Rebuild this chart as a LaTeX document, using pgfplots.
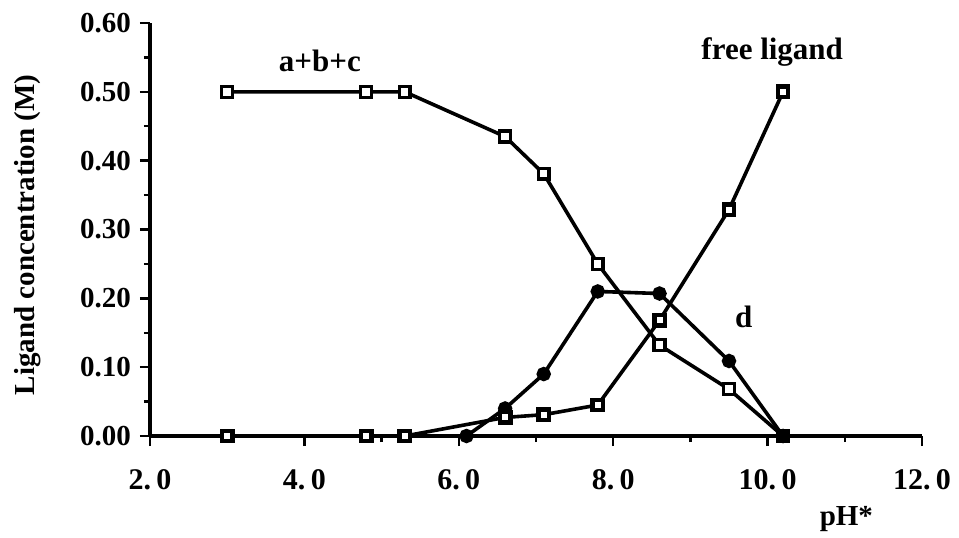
\documentclass[border=0pt]{standalone}
\usepackage{fontspec}
\setmainfont{Liberation Serif}
\usepackage{pgfplots}
\pgfplotsset{compat=1.18}
\begin{document}
\begin{tikzpicture}
\useasboundingbox (-75pt,-50.5pt) rectangle (404.5pt,218pt);
\begin{axis}[
  scale only axis,
  width=386pt, height=206.5pt,
  xmin=2, xmax=12, ymin=0, ymax=0.6,
  axis x line=bottom, axis y line=left,
  axis line style={line width=1.7pt, -},
  xtick={2,4,6,8,10,12},
  xticklabels={2.\hspace{0.18em}0,4.\hspace{0.18em}0,6.\hspace{0.18em}0,8.\hspace{0.18em}0,10.\hspace{0.18em}0,12.\hspace{0.18em}0},
  minor xtick={3,5,7,9,11},
  ytick={0,0.1,0.2,0.3,0.4,0.5,0.6},
  yticklabels={0.00,0.10,0.20,0.30,0.40,0.50,0.60},
  minor ytick={0.05,0.15,0.25,0.35,0.45,0.55},
  tick align=outside,
  major tick length=5pt, minor tick length=3pt,
  tick style={line width=1.2pt, black},
  yticklabel style={font=\fontsize{14.5}{17}\selectfont\bfseries, xshift=-1pt},
  xticklabel style={font=\fontsize{15}{18}\selectfont\bfseries, yshift=-8pt},
  xlabel={pH*}, ylabel={Ligand concentration (M)},
  label style={font=\fontsize{14.5}{17}\selectfont\bfseries},
  xlabel style={at={(axis description cs:0.902,-0.2)}, anchor=center},
  ylabel style={at={(axis description cs:-0.158,0.487)}, anchor=center},
  clip=false,
]
\addplot[black, line width=1.8pt, mark=square*, mark size=2.7pt,
  mark options={fill=white, draw=black, line width=1.7pt}]
  coordinates {(3.0,0.50) (4.8,0.50) (5.3,0.50) (6.6,0.435) (7.1,0.381) (7.8,0.250) (8.6,0.132) (9.5,0.068) (10.2,0.0)};
\addplot[black, line width=1.8pt, mark=*, mark size=2.7pt,
  mark options={fill=black, draw=black}]
  coordinates {(6.1,0.0) (6.6,0.040) (7.1,0.090) (7.8,0.210) (8.6,0.207) (9.5,0.109) (10.2,0.0)};
\addplot[black, line width=1.8pt, mark=square*, mark size=2.6pt,
  mark options={fill=white, draw=black, line width=2.2pt}]
  coordinates {(3.0,0.0) (4.8,0.0) (5.3,0.0) (6.6,0.027) (7.1,0.031) (7.8,0.045) (8.6,0.168) (9.5,0.329) (10.2,0.50)};
\node[font=\fontsize{15.5}{18}\selectfont\bfseries] at (axis cs:4.2,0.545) {a+b+c};
\node[font=\fontsize{15.5}{18}\selectfont\bfseries] at (axis cs:10.06,0.558) {free ligand};
\node[font=\fontsize{15.5}{18}\selectfont\bfseries] at (axis cs:9.69,0.173) {d};
\end{axis}
\end{tikzpicture}
\end{document}
